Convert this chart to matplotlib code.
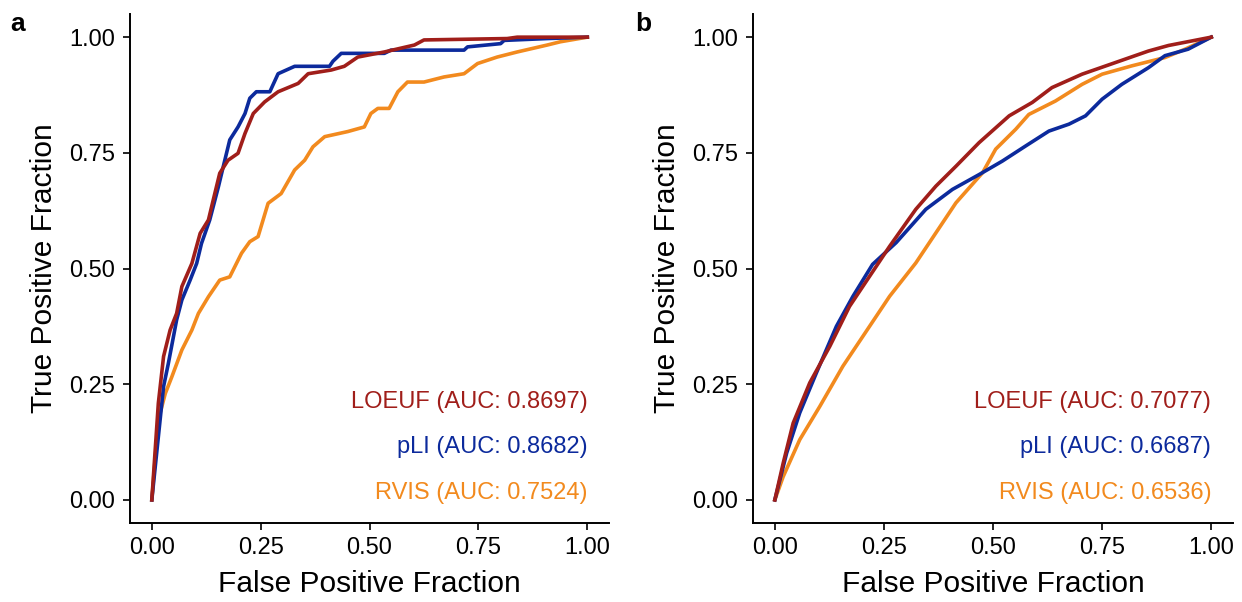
import numpy as np
import matplotlib.pyplot as plt

plt.rcParams['font.family'] = ['Liberation Sans', 'DejaVu Sans']

# colours per predictor
red = '#A01E1A'
blue = '#0C2A9C'
orange = '#F28A1E'

# panel a: ROC points
a_loeuf_fpf = [0, 0.015, 0.027, 0.042, 0.057, 0.069, 0.092, 0.111, 0.13, 0.141, 0.156, 0.175,
               0.198, 0.214, 0.233, 0.259, 0.29, 0.336, 0.359, 0.412, 0.442, 0.473, 0.534,
               0.603, 0.625, 0.816, 0.839, 1.0]
a_loeuf_tpf = [0, 0.209, 0.31, 0.367, 0.403, 0.461, 0.511, 0.576, 0.605, 0.648, 0.706, 0.734,
               0.749, 0.792, 0.835, 0.86, 0.882, 0.9, 0.921, 0.929, 0.937, 0.957, 0.968,
               0.983, 0.994, 0.997, 1.0, 1.0]

a_pli_fpf = [0, 0.027, 0.038, 0.057, 0.069, 0.088, 0.103, 0.114, 0.133, 0.153, 0.164, 0.179,
             0.198, 0.214, 0.225, 0.24, 0.271, 0.29, 0.328, 0.408, 0.416, 0.435, 0.534, 0.549,
             0.717, 0.725, 0.801, 0.809, 0.908, 1.0]
a_pli_tpf = [0, 0.245, 0.295, 0.389, 0.432, 0.475, 0.511, 0.554, 0.605, 0.677, 0.72, 0.778,
             0.806, 0.835, 0.868, 0.882, 0.882, 0.921, 0.937, 0.937, 0.948, 0.965, 0.965, 0.972,
             0.972, 0.979, 0.986, 0.993, 0.997, 1.0]

a_rvis_fpf = [0, 0.015, 0.031, 0.046, 0.069, 0.092, 0.107, 0.13, 0.156, 0.179, 0.206, 0.225,
              0.244, 0.267, 0.297, 0.328, 0.351, 0.37, 0.397, 0.45, 0.488, 0.503, 0.519, 0.545,
              0.565, 0.587, 0.625, 0.671, 0.717, 0.748, 0.793, 0.839, 0.908, 0.938, 1.0]
a_rvis_tpf = [0, 0.173, 0.23, 0.266, 0.324, 0.367, 0.403, 0.439, 0.475, 0.482, 0.533, 0.558,
              0.569, 0.641, 0.662, 0.713, 0.734, 0.763, 0.785, 0.796, 0.806, 0.835, 0.846, 0.846,
              0.882, 0.903, 0.903, 0.914, 0.921, 0.943, 0.957, 0.968, 0.983, 0.99, 1.0]

# panel b
b_loeuf_fpf = [0, 0.019, 0.042, 0.08, 0.126, 0.171, 0.217, 0.263, 0.323, 0.369, 0.415, 0.468,
               0.537, 0.59, 0.635, 0.704, 0.78, 0.856, 0.902, 1.0]
b_loeuf_tpf = [0, 0.079, 0.166, 0.253, 0.332, 0.418, 0.483, 0.548, 0.628, 0.678, 0.721, 0.772,
               0.83, 0.859, 0.891, 0.92, 0.945, 0.97, 0.982, 1.0]

b_pli_fpf = [0, 0.027, 0.057, 0.095, 0.141, 0.179, 0.224, 0.278, 0.346, 0.407, 0.468, 0.521,
             0.575, 0.628, 0.674, 0.712, 0.75, 0.795, 0.856, 0.894, 0.947, 1.0]
b_pli_tpf = [0, 0.101, 0.188, 0.274, 0.375, 0.44, 0.509, 0.556, 0.628, 0.671, 0.703, 0.732,
             0.765, 0.797, 0.812, 0.83, 0.866, 0.898, 0.934, 0.96, 0.974, 1.0]

b_rvis_fpf = [0, 0.019, 0.057, 0.103, 0.156, 0.217, 0.263, 0.323, 0.369, 0.415, 0.476, 0.506,
              0.552, 0.582, 0.643, 0.704, 0.75, 0.818, 0.894, 0.94, 1.0]
b_rvis_tpf = [0, 0.05, 0.13, 0.202, 0.289, 0.375, 0.44, 0.512, 0.577, 0.642, 0.707, 0.758,
              0.801, 0.833, 0.862, 0.898, 0.92, 0.938, 0.956, 0.974, 1.0]

a_labels = ['LOEUF (AUC: 0.8697)', 'pLI (AUC: 0.8682)', 'RVIS (AUC: 0.7524)']
b_labels = ['LOEUF (AUC: 0.7077)', 'pLI (AUC: 0.6687)', 'RVIS (AUC: 0.6536)']
ticks = [0, 0.25, 0.5, 0.75, 1.0]
tick_labels = ['0.00', '0.25', '0.50', '0.75', '1.00']

fig = plt.figure(figsize=(12.42, 6.02), dpi=100)
ax_a = fig.add_axes([0.1047, 0.1312, 0.3857, 0.8455])
ax_b = fig.add_axes([0.6063, 0.1312, 0.3865, 0.8455])

panels = [
    (ax_a, [(a_loeuf_fpf, a_loeuf_tpf), (a_pli_fpf, a_pli_tpf), (a_rvis_fpf, a_rvis_tpf)], a_labels),
    (ax_b, [(b_loeuf_fpf, b_loeuf_tpf), (b_pli_fpf, b_pli_tpf), (b_rvis_fpf, b_rvis_tpf)], b_labels),
]
colors = [red, blue, orange]

for ax, curves, labels in panels:
    # draw RVIS first, red on top like the original
    for (fx, ty), c in reversed(list(zip(curves, colors))):
        ax.plot(fx, ty, color=c, lw=2.6, solid_joinstyle='round')
    for i, (lab, c) in enumerate(zip(labels, colors)):
        ax.text(1.0, 0.212 - i * 0.0985, lab, color=c, fontsize=17,
                ha='right', va='center')
    ax.set_xlim(-0.05, 1.05)
    ax.set_ylim(-0.05, 1.05)
    ax.set_xticks(ticks, tick_labels)
    ax.set_yticks(ticks, tick_labels)
    ax.tick_params(labelsize=17, length=5, width=1.2, color='black')
    ax.tick_params(axis='y', pad=6)
    ax.tick_params(axis='x', pad=5)
    for s in ['top', 'right']:
        ax.spines[s].set_visible(False)
    for s in ['left', 'bottom']:
        ax.spines[s].set_linewidth(1.4)
    ax.set_xlabel('False Positive Fraction', fontsize=21.5, labelpad=8)
    ax.set_ylabel('True Positive Fraction', fontsize=21.5, labelpad=8)

fig.text(18 / 1242, 1 - 24 / 602, 'a', fontsize=19, fontweight='bold', ha='center', va='center')
fig.text(643 / 1242, 1 - 24 / 602, 'b', fontsize=19, fontweight='bold', ha='center', va='center')

fig.savefig('out.png', dpi=100)
